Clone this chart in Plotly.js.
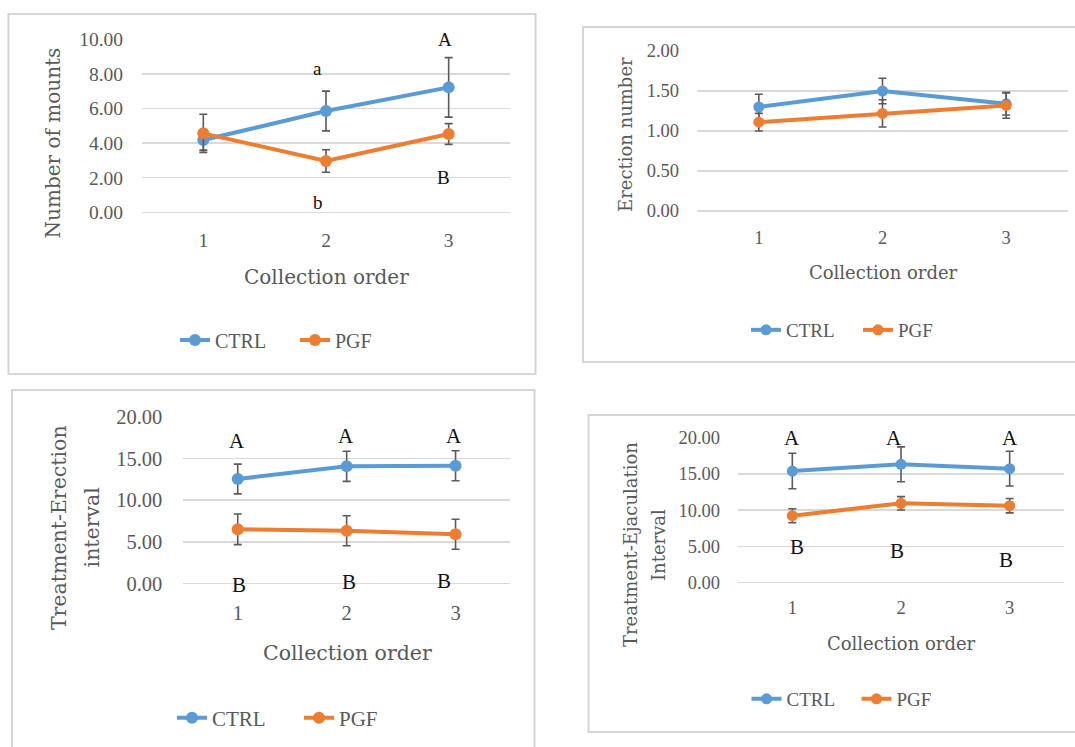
<!DOCTYPE html>
<html>
<head>
<meta charset="utf-8">
<script src="https://cdn.plot.ly/plotly-3.0.1.min.js"></script>
<style>html,body{margin:0;padding:0;background:#fff;}#chart{width:1075px;height:747px;}</style>
</head>
<body>
<div id="chart"></div>
<script>
// ---------------- DATA ----------------
const collection = [1, 2, 3];
const seriesNames = ['CTRL', 'PGF'];

// Panel 1: Number of mounts
const mountsCTRL = [4.18, 5.86, 7.23];
const mountsCTRLerr = [0.58, 1.15, 1.72];
const mountsPGF = [4.57, 2.97, 4.53];
const mountsPGFerr = [1.1, 0.65, 0.6];

// Panel 2: Erection number
const erectCTRL = [1.30, 1.50, 1.34];
const erectCTRLerr = [0.16, 0.16, 0.14];
const erectPGF = [1.11, 1.22, 1.32];
const erectPGFerr = [0.11, 0.17, 0.16];

// Panel 3: Treatment-Erection interval
const teiCTRL = [12.53, 14.05, 14.12];
const teiCTRLerr = [1.78, 1.8, 1.8];
const teiPGF = [6.5, 6.33, 5.9];
const teiPGFerr = [1.84, 1.8, 1.8];

// Panel 4: Treatment-Ejaculation interval
const tejCTRL = [15.4, 16.33, 15.73];
const tejCTRLerr = [2.45, 2.4, 2.4];
const tejPGF = [9.24, 10.95, 10.62];
const tejPGFerr = [0.97, 0.92, 0.99];

// Significance letters
const mountsLetters = ['a', 'b', 'A', 'B'];
const teiLetters = ['A', 'A', 'A', 'B', 'B', 'B'];
const tejLetters = ['A', 'A', 'A', 'B', 'B', 'B'];

// Axis texts
const xTitle = 'Collection order';
const yTitles = ['Number of mounts', 'Erection number', ['Treatment-Erection', 'interval'], ['Treatment-Ejaculation', 'Interval']];

// ---------------- LAYOUT HELPERS ----------------
const W = 1075, H = 747;
const px = x => x / W;
const py = y => 1 - y / H;
const BLUE = '#5B9BD5', ORANGE = '#ED7D31', GRID = '#d9d9d9', TXT = '#595959';
const TICKFONT = 'Liberation Serif';
const TITLEFONT = 'DejaVu Serif';

function mk(name, x, y, err, color, ax, leg, msize) {
  return {
    type: 'scatter', mode: 'lines+markers', name: name, x: x, y: y,
    xaxis: 'x' + ax, yaxis: 'y' + ax, legend: leg,
    line: {color: color, width: 4},
    marker: {color: color, size: msize},
    error_y: {type: 'data', array: err, visible: true, color: '#5a5a5a', thickness: 1.6, width: 4},
    cliponaxis: false, hoverinfo: 'skip'
  };
}

const data = [
  mk(seriesNames[0], collection, mountsCTRL, mountsCTRLerr, BLUE, '', 'legend', 12),
  mk(seriesNames[1], collection, mountsPGF, mountsPGFerr, ORANGE, '', 'legend', 12),
  mk(seriesNames[0], collection, erectCTRL, erectCTRLerr, BLUE, '2', 'legend2', 11),
  mk(seriesNames[1], collection, erectPGF, erectPGFerr, ORANGE, '2', 'legend2', 11),
  mk(seriesNames[0], collection, teiCTRL, teiCTRLerr, BLUE, '3', 'legend3', 12),
  mk(seriesNames[1], collection, teiPGF, teiPGFerr, ORANGE, '3', 'legend3', 12),
  mk(seriesNames[0], collection, tejCTRL, tejCTRLerr, BLUE, '4', 'legend4', 11),
  mk(seriesNames[1], collection, tejPGF, tejPGFerr, ORANGE, '4', 'legend4', 11)
];

function xax(x0, x1, fs, stand, anchor) {
  return {domain: [px(x0), px(x1)], range: [0.5, 3.5], tickvals: collection, ticktext: collection.map(String),
    showgrid: false, zeroline: false, showline: false, ticks: '', ticklabelstandoff: stand, anchor: anchor,
    tickfont: {family: TICKFONT, size: fs, color: TXT}, fixedrange: true};
}
function yax(y0, y1, maxv, dt, fs, stand, anchor) {
  return {domain: [py(y1), py(y0)], range: [0, maxv], dtick: dt, tick0: 0, tickformat: '.2f',
    showgrid: true, gridcolor: GRID, gridwidth: 1.5, zeroline: true, zerolinecolor: GRID, zerolinewidth: 1.5,
    showline: false, ticks: '', ticklabelstandoff: stand, anchor: anchor,
    tickfont: {family: TICKFONT, size: fs, color: TXT}, fixedrange: true};
}

function legendAt(x, y, fs, ew) {
  return {orientation: 'h', x: px(x), y: py(y), xanchor: 'left', yanchor: 'middle',
    bgcolor: 'rgba(0,0,0,0)', borderwidth: 0, itemwidth: 30,
    entrywidthmode: 'pixels', entrywidth: ew,
    font: {family: TICKFONT, size: fs, color: TXT}};
}

const annotations = [];
function titleAnn(text, x, y, fs, angle) {
  annotations.push({text: text, xref: 'paper', yref: 'paper', x: px(x), y: py(y), showarrow: false,
    textangle: angle, xanchor: 'center', yanchor: 'middle',
    font: {family: TITLEFONT, size: fs, color: TXT}});
}
function letterAnn(text, ax, x, y, fs, ys) {
  annotations.push({text: text, xref: 'x' + ax, yref: 'y' + ax, x: x, y: y, showarrow: false,
    xanchor: 'center', yanchor: 'middle', yshift: ys || 0, font: {family: TICKFONT, size: fs, color: '#111'}});
}

// axis titles
titleAnn(yTitles[0], 53.4, 143, 20, -90);
titleAnn(xTitle, 326, 277, 20, 0);
titleAnn(yTitles[1], 625, 135, 18, -90);
titleAnn(xTitle, 883, 272, 18, 0);
titleAnn(yTitles[2][0], 58.6, 527.5, 20.5, -90);
titleAnn(yTitles[2][1], 92.4, 527, 20.5, -90);
titleAnn(xTitle, 347, 653, 20.5, 0);
titleAnn(yTitles[3][0], 630, 545, 18, -90);
titleAnn(yTitles[3][1], 658, 545, 18, -90);
titleAnn(xTitle, 901, 643, 18, 0);

// significance letters (data coordinates)
const mountsLetterPos = [[1.93, 8.35], [1.935, 0.54], [2.97, 10.0], [2.96, 2.04]];
mountsLetters.forEach((t, i) => letterAnn(t, '', mountsLetterPos[i][0], mountsLetterPos[i][1], 19));
const teiLetterPos = [[0.99, 17.09], [1.99, 17.72], [2.99, 17.72], [1.01, 0.0], [2.02, 0.22], [2.89, 0.34]];
teiLetters.forEach((t, i) => letterAnn(t, '3', teiLetterPos[i][0], teiLetterPos[i][1], 21, i === 3 ? -1.5 : 0));
const tejLetterPos = [[1.0, 20.0], [1.94, 20.0], [3.0, 20.0], [1.04, 4.88], [1.96, 4.41], [2.97, 3.13]];
tejLetters.forEach((t, i) => letterAnn(t, '4', tejLetterPos[i][0], tejLetterPos[i][1], 21));

// panel frames
const shapes = [
  [8.5, 14, 535.5, 374], [583, 27, 1085, 362], [12, 390, 534.5, 760], [588.5, 415, 1085, 732]
].map(b => ({type: 'rect', xref: 'paper', yref: 'paper', x0: px(b[0]), x1: px(b[2]), y0: py(b[3]), y1: py(b[1]),
  line: {color: '#d6d6d6', width: 2}, fillcolor: 'rgba(0,0,0,0)', layer: 'below'}));

const layout = {
  width: W, height: H, margin: {l: 0, r: 0, t: 0, b: 0},
  paper_bgcolor: '#fff', plot_bgcolor: 'rgba(0,0,0,0)', showlegend: true,
  xaxis: xax(142, 510, 19.5, 14, 'y'), yaxis: yax(39.5, 212.3, 10, 2, 19.5, 18, 'x'),
  xaxis2: xax(697, 1068, 18.5, 13, 'y2'), yaxis2: yax(51, 211, 2, 0.5, 18.5, 17, 'x2'),
  xaxis3: xax(183.3, 510, 20.5, 15, 'y3'), yaxis3: yax(416.7, 583.5, 20, 5, 20.5, 20, 'x3'),
  xaxis4: xax(738, 1064, 18.5, 12, 'y4'), yaxis4: yax(437.7, 582.7, 20, 5, 18.5, 17, 'x4'),
  legend: legendAt(175, 340, 20, 75),
  legend2: legendAt(746, 330, 19, 67),
  legend3: legendAt(172, 718, 21, 82),
  legend4: legendAt(746.5, 699, 19, 65),
  annotations: annotations, shapes: shapes
};

Plotly.newPlot('chart', data, layout, {staticPlot: true, displayModeBar: false});
</script>
</body>
</html>
